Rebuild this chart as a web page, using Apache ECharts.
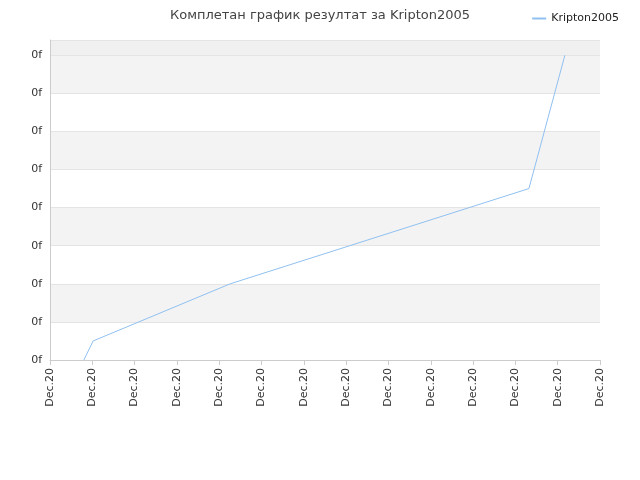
<!DOCTYPE html>
<html><head><meta charset="utf-8">
<script src="https://cdn.jsdelivr.net/npm/echarts@6/dist/echarts.min.js"></script>
<style>html,body{margin:0;padding:0;background:#fff}#c{width:640px;height:480px}</style>
</head><body><div id="c"></div>
<script>
const title = 'Комплетан график резултат за Kripton2005';
const seriesName = 'Kripton2005';
const xValues = [0.8, 1.02, 4.26, 11.32, 12.17];
const yValues = [0, 0.5, 2.0, 4.5, 8.0];
const xTickLabel = 'Dec.20';
const yTickLabel = '0f';
const chart = echarts.init(document.getElementById('c'));
chart.setOption({
  animation:false,
  title:{text:title,left:'center',top:4,textStyle:{fontSize:13,fontWeight:'normal',color:'#444',fontFamily:'DejaVu Sans'}},
  legend:{right:16,top:8,itemWidth:14,itemHeight:2,icon:'rect',textStyle:{fontSize:11,color:'#222',fontFamily:'DejaVu Sans'},data:[seriesName]},
  grid:{left:50,right:40,top:40,bottom:120},
  xAxis:{type:'value',min:0,max:13,interval:1,
    axisLine:{lineStyle:{color:'#ccc'}},axisTick:{show:true,lineStyle:{color:'#ccc'}},splitLine:{show:false},
    axisLabel:{rotate:90,formatter:()=>xTickLabel,fontSize:11,color:'#333',fontFamily:'DejaVu Sans',showMaxLabel:true}},
  yAxis:{type:'value',min:0,max:8.4,interval:1,
    axisLine:{show:true,lineStyle:{color:'#ccc'}},axisTick:{show:false},
    splitLine:{show:true,lineStyle:{color:'#e4e4e4'}},
    splitArea:{show:true,areaStyle:{color:['#fff','#f3f3f3','#fff','#f3f3f3','#fff','#f3f3f3','#fff','#f3f3f3','#f0f0f0']}},
    axisLabel:{formatter:()=>yTickLabel,fontSize:11,color:'#333',fontFamily:'DejaVu Sans',showMaxLabel:false}},
  series:[{name:seriesName,type:'line',data:xValues.map((x,i)=>[x,yValues[i]]),
    showSymbol:false,lineStyle:{width:1,color:'#90c0f0'},itemStyle:{color:'#90c0f0'}}]
});
</script></body></html>
